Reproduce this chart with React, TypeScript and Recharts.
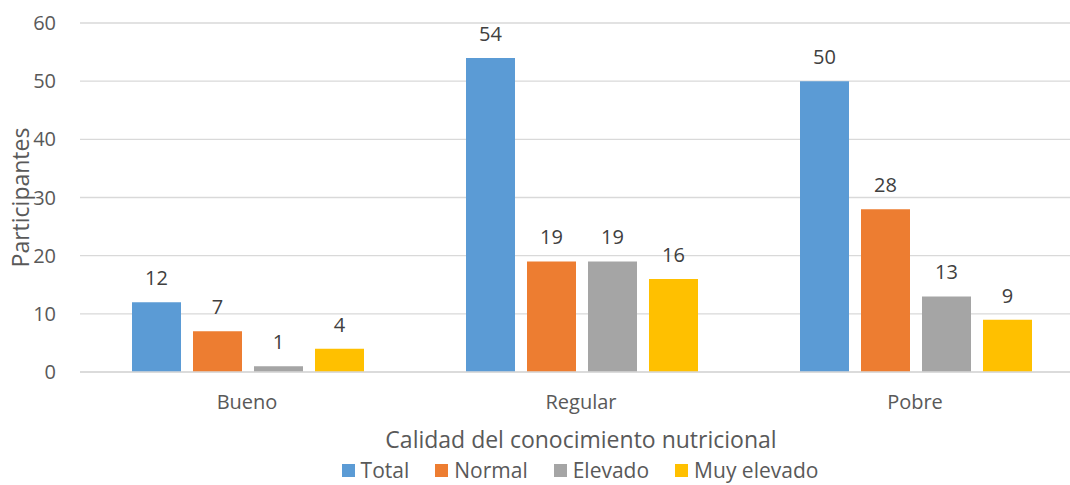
import { BarChart, Bar, XAxis, YAxis, CartesianGrid, Legend, LabelList } from 'recharts'

const categories = ['Bueno', 'Regular', 'Pobre']
const total = [12, 54, 50]
const normal = [7, 19, 28]
const elevado = [1, 19, 13]
const muyElevado = [4, 16, 9]
const yTicks = [0, 10, 20, 30, 40, 50, 60]

const series = [
  { key: 'total', name: 'Total', color: '#5B9BD5' },
  { key: 'normal', name: 'Normal', color: '#ED7D31' },
  { key: 'elevado', name: 'Elevado', color: '#A5A5A5' },
  { key: 'muyElevado', name: 'Muy elevado', color: '#FFC000' },
]

const data = categories.map((name, i) => ({
  name,
  total: total[i],
  normal: normal[i],
  elevado: elevado[i],
  muyElevado: muyElevado[i],
}))

const FONT = '"Open Sans", sans-serif'
const TEXT = '#595959'

function LegendContent() {
  return (
    <div style={{ display: 'flex', justifyContent: 'center', gap: 26, fontFamily: FONT, fontSize: 21, color: TEXT, lineHeight: '22px', height: 22, paddingTop: 0, paddingBottom: 4, paddingLeft: 78 }}>
      {series.map((s) => (
        <div key={s.key} style={{ display: 'flex', alignItems: 'center' }}>
          <span style={{ display: 'inline-block', width: 13, height: 13, background: s.color, marginRight: 6 }} />
          {s.name}
        </div>
      ))}
    </div>
  )
}

function YTitle({ viewBox }: { viewBox?: { x: number; y: number; width: number; height: number } }) {
  if (!viewBox) return null
  const cx = 20
  const cy = viewBox.y + viewBox.height / 2
  return (
    <text x={cx} y={cy} transform={`rotate(-90 ${cx} ${cy})`} textAnchor="middle" dominantBaseline="central"
      fill={TEXT} fontFamily={FONT} fontSize={23}>
      Participantes
    </text>
  )
}

export default function App() {
  return (
    <div style={{ position: 'absolute', left: 0, top: 0, width: 1070, height: 485, overflow: 'hidden', background: '#fff' }}>
      <BarChart
        width={1082}
        height={485}
        data={data}
        margin={{ top: 23, right: 0, left: 0, bottom: 0 }}
        barCategoryGap={52}
        barGap={12}
      >
        <CartesianGrid vertical={false} stroke="#D9D9D9" strokeWidth={1.3} />
        <XAxis
          dataKey="name"
          height={87}
          axisLine={{ stroke: '#D9D9D9', strokeWidth: 1.3 }}
          tickLine={false}
          tickMargin={17}
          tick={{ fill: TEXT, fontSize: 20, fontFamily: FONT }}
          label={{ value: 'Calidad del conocimiento nutricional', position: 'insideBottom', offset: 11, fill: TEXT, fontSize: 23, fontFamily: FONT }}
        />
        <YAxis
          width={80}
          domain={[0, 60]}
          ticks={yTicks}
          axisLine={false}
          tickLine={false}
          tickMargin={18}
          tick={{ fill: TEXT, fontSize: 20, fontFamily: FONT }}
          label={<YTitle />}
        />
        <Legend verticalAlign="bottom" content={<LegendContent />} />
        {series.map((s) => (
          <Bar key={s.key} dataKey={s.key} name={s.name} fill={s.color} isAnimationActive={false}>
            <LabelList dataKey={s.key} position="top" offset={17} fill="#404040" fontSize={20} fontFamily={FONT} />
          </Bar>
        ))}
      </BarChart>
    </div>
  )
}
